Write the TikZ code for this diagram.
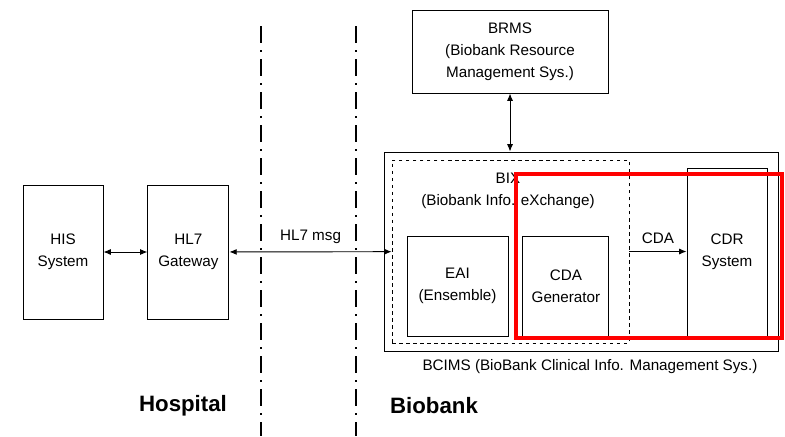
\documentclass[tikz,border=0pt]{standalone}
\usepackage{fontspec}
\setmainfont{Liberation Sans}
\usepackage{tikz}
\usetikzlibrary{arrows.meta,positioning}
\usepackage{xcolor}

\begin{document}
\begin{tikzpicture}[
    x=0.3mm, y=-0.3mm,
    box/.style={draw, rectangle, line width=0.8pt, text centered, align=center, font=\fontsize{13}{18.7}\selectfont},
    txt/.style={align=center, font=\fontsize{13}{18.7}\selectfont},
    side/.style={font=\fontsize{19}{22}\selectfont\bfseries},
    divider/.style={line width=0.9pt, dash pattern=on 5.1mm off 2.1mm on 0.6mm off 2.1mm},
    link/.style={line width=0.8pt, {Latex[length=2.2mm,width=1.8mm]}-{Latex[length=2.2mm,width=1.8mm]}}
]
\useasboundingbox (0,0) rectangle (785,436);

% dividers
\draw [divider] (261,26) -- (261,436);
\draw [divider] (356,26) -- (356,436);

\node (his) [box, minimum width=24mm, minimum height=40.2mm] at (63,252) {HIS\\System};
\node (gw) [box, minimum width=24.3mm, minimum height=40.2mm, right=13.2mm of his] {HL7\\Gateway};

\node (brms) [box, minimum width=58.8mm, minimum height=24.9mm] at (510,51.5) {BRMS\\(Biobank Resource\\Management Sys.)};
\node (bcims) [draw, rectangle, line width=0.8pt, minimum width=118.2mm, minimum height=59.7mm] at (581,251.5) {};
\node (bix) [draw, rectangle, dashed, line width=0.6pt, minimum width=71.1mm, minimum height=54.9mm] at (510.5,251.5) {};
\node (bixlabel) [txt] at (508,191) {BIX\\(Biobank Info. eXchange)};
\node (eai) [box, minimum width=30.3mm, minimum height=30mm] at (457.5,286) {EAI\\(Ensemble)};
\node (cdagen) [box, minimum width=25.8mm, minimum height=30mm, right=4.2mm of eai] {CDA\\Generator};
\node (cdr) [box, minimum width=24mm, minimum height=50.4mm] at (727,252) {CDR\\System};
\node (bcimslabel) [txt] at (590,367) {BCIMS (BioBank Clinical Info. Management Sys.)};

\node (hospital) [side] at (183,406) {Hospital};
\node (biobank) [side] at (434,406) {Biobank};

\draw [link] (his) -- (gw);
\draw [link] (gw) -- node [txt, above, yshift=1mm] {HL7 msg} (bix);
\draw [link] (brms.south) -- (brms.south |- bcims.north);
\draw [line width=0.8pt, -{Latex[length=2.2mm,width=1.8mm]}] (bix.east) -- node [txt, above, yshift=1mm] {CDA} (cdr.west |- bix.east);

% highlight
\draw [red, line width=4pt] (516,174) rectangle (782,338);
\end{tikzpicture}
\end{document}
